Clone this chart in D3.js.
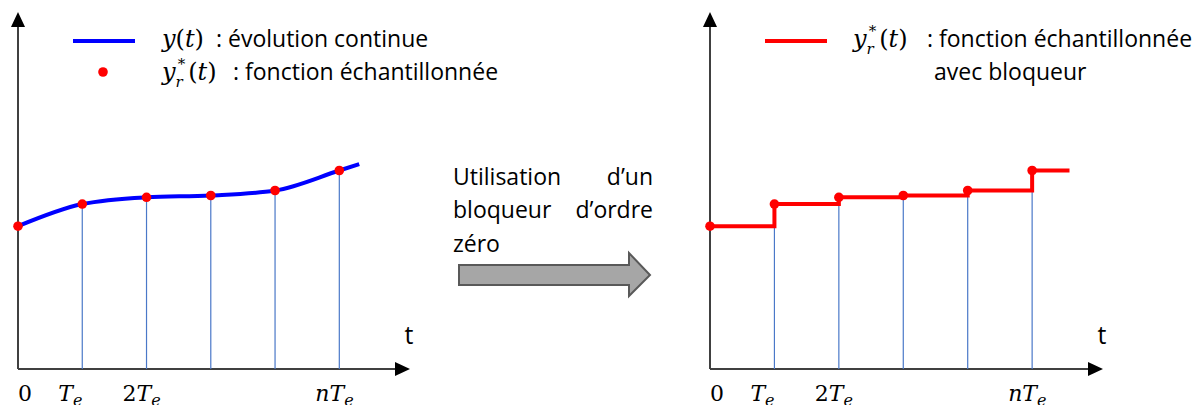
<!DOCTYPE html>
<html>
<head>
<meta charset="utf-8">
<title>Bloqueur d'ordre zéro</title>
<style>
    body { margin: 0; background: #fff; }
    .sans { font-family: "Open Sans", "Noto Sans", sans-serif; fill: #000; }
    .math { font-family: "DejaVu Serif", serif; fill: #000; }
</style>
</head>
<body>
<svg id="chart"></svg>
<script src="https://d3js.org/d3.v7.min.js"></script>
<script>
    // sample instants (in units of Te) and sampled values
    const sampleT = [0, 1, 2, 3, 4, 5];
    const sampleY = [4.0, 4.62, 4.81, 4.86, 5.0, 5.56];
    // end of the continuous curve and of the held signal
    const curveEnd = {t: 5.31, y: 5.74};
    const holdEndT = 5.58;
    const tickT = [0, 1, 2, 5];
    const tickLabels = ["0", "T_e", "2T_e", "nT_e"];

    const svgWidth = 1196, svgHeight = 405;
    const svg = d3.select("#chart").attr("width", svgWidth).attr("height", svgHeight);

    const axisY = 369, topY = 12;
    const y = d3.scaleLinear().domain([0, 10]).range([axisY, topY]);
    const txtSize = 23;

    function drawAxes(g, x) {
        const x0 = x(0), x1 = x(6.1);
        g.append("line").attr("x1", x0).attr("y1", axisY).attr("x2", x1 - 12).attr("y2", axisY)
            .attr("stroke", "#404040").attr("stroke-width", 2);
        g.append("path").attr("d", `M${x1},${axisY} L${x1 - 15},${axisY - 7} L${x1 - 15},${axisY + 7} Z`)
            .attr("fill", "#000");
        g.append("line").attr("x1", x0).attr("y1", axisY).attr("x2", x0).attr("y2", topY + 12)
            .attr("stroke", "#404040").attr("stroke-width", 2);
        g.append("path").attr("d", `M${x0},${topY} L${x0 - 7},${topY + 15} L${x0 + 7},${topY + 15} Z`)
            .attr("fill", "#000");

        g.append("text").attr("class", "sans").attr("x", x1 - 1).attr("y", 344)
            .attr("text-anchor", "middle").attr("font-size", 25).text("t");

        tickT.forEach(function(t, i) {
            const parts = tickLabels[i].split("_");
            const tx = g.append("text").attr("class", "math").attr("font-size", 22).attr("y", 401);
            if (t === 0) {
                tx.attr("x", x(t)).text(parts[0]);
                return;
            }
            tx.attr("x", x(t) - 24);
            parts[0].split("").forEach(function(c) {
                tx.append("tspan").attr("font-style", /[0-9]/.test(c) ? "normal" : "italic").text(c);
            });
            tx.append("tspan").attr("font-style", "italic").attr("font-size", 16)
                .attr("dy", 5).text(parts[1]);
        });

        // thin sampling lines
        g.selectAll(".samp").data(sampleT.slice(1)).join("line")
            .attr("x1", d => x(d)).attr("x2", d => x(d))
            .attr("y1", (d, i) => y(sampleY[i + 1])).attr("y2", axisY)
            .attr("stroke", "#4a78c8").attr("stroke-width", 1.2);
    }

    function mathY(g, xPos, yPos, withR) {
        const t = g.append("text").attr("class", "math").attr("x", xPos).attr("y", yPos).attr("font-size", 24);
        t.append("tspan").attr("font-style", "italic").text("y");
        if (withR) {
            t.append("tspan").attr("font-style", "italic").attr("font-size", 15).attr("dy", 7).text("r");
            t.append("tspan").attr("font-style", "italic").attr("font-size", 15).attr("dx", -5).attr("dy", -18).text("*");
            t.append("tspan").attr("dx", 3).attr("dy", 11).text("(");
        } else {
            t.append("tspan").text("(");
        }
        t.append("tspan").attr("font-style", "italic").text("t");
        t.append("tspan").text(")");
        return t;
    }

    // ---- left panel : continuous signal ----
    const xl = d3.scaleLinear().domain([0, 6.1]).range([18, 410]);
    const gl = svg.append("g");
    drawAxes(gl, xl);

    const curvePts = sampleT.map((t, i) => ({t: t, y: sampleY[i]})).concat([curveEnd]);
    const line = d3.line().x(d => xl(d.t)).y(d => y(d.y)).curve(d3.curveMonotoneX);
    gl.append("path").datum(curvePts).attr("d", line)
        .attr("fill", "none").attr("stroke", "#0000ff").attr("stroke-width", 4);
    gl.selectAll(".dot").data(sampleT).join("circle")
        .attr("cx", d => xl(d)).attr("cy", (d, i) => y(sampleY[i])).attr("r", 4.8).attr("fill", "#ff0000");

    // legend left
    gl.append("line").attr("x1", 73).attr("x2", 135).attr("y1", 41).attr("y2", 41)
        .attr("stroke", "#0000ff").attr("stroke-width", 4);
    gl.append("circle").attr("cx", 103).attr("cy", 72).attr("r", 4.8).attr("fill", "#ff0000");
    mathY(gl, 162, 47, false);
    gl.append("text").attr("class", "sans").attr("x", 216).attr("y", 47).attr("font-size", txtSize)
        .text(": évolution continue");
    mathY(gl, 162, 80, true);
    gl.append("text").attr("class", "sans").attr("x", 233).attr("y", 80).attr("font-size", txtSize)
        .text(": fonction échantillonnée");

    // ---- middle : arrow and text ----
    const gm = svg.append("g");
    gm.append("text").attr("class", "sans").attr("x", 453).attr("y", 185).attr("font-size", txtSize).text("Utilisation");
    gm.append("text").attr("class", "sans").attr("x", 653).attr("y", 185).attr("font-size", txtSize)
        .attr("text-anchor", "end").text("d’un");
    gm.append("text").attr("class", "sans").attr("x", 453).attr("y", 218).attr("font-size", txtSize).text("bloqueur");
    gm.append("text").attr("class", "sans").attr("x", 653).attr("y", 218).attr("font-size", txtSize)
        .attr("text-anchor", "end").text("d’ordre");
    gm.append("text").attr("class", "sans").attr("x", 453).attr("y", 252).attr("font-size", txtSize).text("zéro");
    gm.append("path")
        .attr("d", "M459,265 L629,265 L629,253 L650,275 L629,296 L629,285 L459,285 Z")
        .attr("fill", "#a6a6a6").attr("stroke", "#595959").attr("stroke-width", 2);

    // ---- right panel : zero order hold ----
    const xr = d3.scaleLinear().domain([0, 6.1]).range([710, 1103]);
    const gr = svg.append("g");
    drawAxes(gr, xr);

    const holdPts = sampleT.map((t, i) => ({t: t, y: sampleY[i]}))
        .concat([{t: holdEndT, y: sampleY[sampleY.length - 1]}]);
    const step = d3.line().x(d => xr(d.t)).y(d => y(d.y)).curve(d3.curveStepAfter);
    gr.append("path").datum(holdPts).attr("d", step)
        .attr("fill", "none").attr("stroke", "#ff0000").attr("stroke-width", 4);
    gr.selectAll(".dot").data(sampleT).join("circle")
        .attr("cx", d => xr(d)).attr("cy", (d, i) => y(sampleY[i])).attr("r", 4.8).attr("fill", "#ff0000");

    // legend right
    gr.append("line").attr("x1", 765).attr("x2", 827).attr("y1", 41).attr("y2", 41)
        .attr("stroke", "#ff0000").attr("stroke-width", 4);
    mathY(gr, 853, 47, true);
    gr.append("text").attr("class", "sans").attr("x", 927).attr("y", 47).attr("font-size", txtSize)
        .text(": fonction échantillonnée");
    gr.append("text").attr("class", "sans").attr("x", 934).attr("y", 80).attr("font-size", txtSize)
        .text("avec bloqueur");
</script>
</body>
</html>
